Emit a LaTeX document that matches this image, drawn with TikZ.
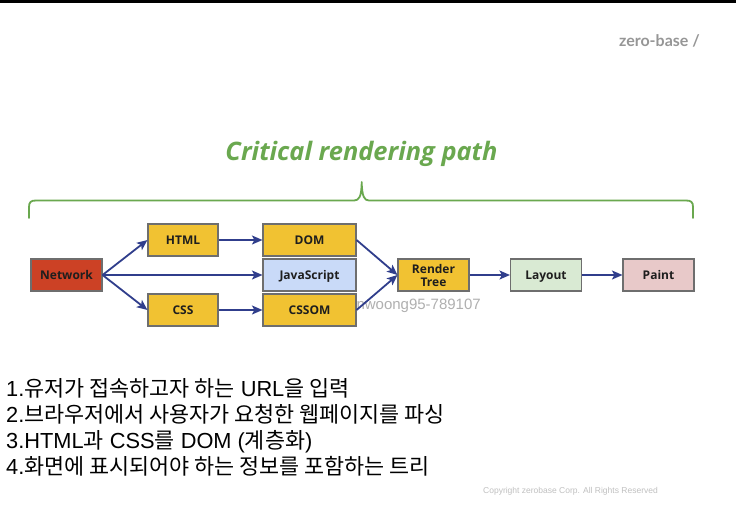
\documentclass[tikz,border=0pt]{standalone}
\usepackage{fontspec}
\setmainfont{Liberation Sans}
\newfontfamily\kr{Noto Sans CJK KR}
\newfontfamily\boxfont{Open Sans}
\newfontfamily\logofont{Lato}
\usetikzlibrary{arrows.meta}

\definecolor{pathgreen}{RGB}{106,168,79}
\definecolor{flownavy}{RGB}{48,62,140}
\definecolor{boxline}{RGB}{110,110,110}
\definecolor{netred}{RGB}{204,65,37}
\definecolor{stageyellow}{RGB}{241,194,50}
\definecolor{jsblue}{RGB}{201,218,248}
\definecolor{layoutgreen}{RGB}{217,234,211}
\definecolor{paintpink}{RGB}{232,201,201}
\definecolor{markgray}{RGB}{176,176,176}
\definecolor{logogray}{RGB}{150,150,150}
\definecolor{labelink}{RGB}{30,30,30}

\tikzset{
  stage/.style={draw=boxline, line width=1.1pt, minimum height=32pt,
    inner sep=0pt, align=center, text=labelink,
    font=\boxfont\bfseries\fontsize{12}{12.5}\selectfont},
  oneline/.style={text height=10.5pt, text depth=0.9pt},
  flow/.style={draw=flownavy, line width=1.8pt,
    -{Stealth[length=10.5pt,width=9pt,inset=2.5pt]}},
  listline/.style={anchor=base west, inner sep=0pt,
    font=\fontsize{21.8}{22}\selectfont}
}

\begin{document}
\begin{tikzpicture}[x=1pt,y=-1pt]
\useasboundingbox (0,0) rectangle (736,515);
\fill[white] (0,0) rectangle (736,515);
\fill[black] (0,0) rectangle (736,2.5);

% logo
\node[anchor=east, inner sep=0pt, text=logogray,
  font=\logofont\bfseries\fontsize{16}{16}\selectfont] (logo) at (700,41) {zero-base /};

% title and brace
\node[inner sep=0pt, text=pathgreen,
  font=\boxfont\bfseries\itshape\fontsize{25.4}{27}\selectfont] (title) at (361.5,154) {Critical rendering path};
\draw[pathgreen, line width=1.8pt, line cap=round, line join=round]
  (29,218) -- (29,207) .. controls (29,202) and (31,200.5) .. (36,200.5)
  -- (354,200.5) .. controls (359,200.5) and (361.5,197) .. (361.7,182)
  .. controls (362,197) and (364.5,200.5) .. (369,200.5)
  -- (686,200.5) .. controls (691,200.5) and (693,202) .. (693,207) -- (693,218);

% watermark
\node[anchor=base east, inner sep=0pt, text=markgray,
  font=\fontsize{15}{15}\selectfont] (mark) at (481,309.5) {inwoong95-789107};

% stages
\node[stage, oneline, fill=netred, minimum width=71pt] (net) at (66.5,275) {Network};
\node[stage, oneline, fill=stageyellow, minimum width=70pt] (html) at (183,240) {HTML};
\node[stage, oneline, fill=stageyellow, minimum width=70pt] (css) at (183,310) {CSS};
\node[stage, oneline, fill=stageyellow, minimum width=93pt] (dom) at (309.5,240) {DOM};
\node[stage, oneline, fill=jsblue, minimum width=93pt] (js) at (309.5,275) {JavaScript};
\node[stage, oneline, fill=stageyellow, minimum width=93pt] (cssom) at (309.5,310) {CSSOM};
\node[stage, fill=stageyellow, minimum width=71pt, font=\boxfont\bfseries\fontsize{12}{13}\selectfont] (rt) at (433.5,275) {Render\\Tree};
\node[stage, oneline, fill=layoutgreen, minimum width=71pt] (layout) at (546,275) {Layout};
\node[stage, oneline, fill=paintpink, minimum width=71pt] (paint) at (658.5,275) {Paint};

% connectors
\draw[flow] (net.east) -- (html.west);
\draw[flow] (net.east) -- (js.west);
\draw[flow] (net.east) -- (css.west);
\draw[flow] (html) -- (dom);
\draw[flow] (css) -- (cssom);
\draw[flow] (dom.east) -- (rt.west);
\draw[flow] (cssom.east) -- (rt.west);
\draw[flow] (rt) -- (layout);
\draw[flow] (layout) -- (paint);

% numbered notes
\node[listline] (l1) at (6,396.7) {1.{\kr 유저가 접속하고자 하는} URL{\kr 을 입력}};
\node[listline] (l2) at (6,422.7) {2.{\kr 브라우저에서 사용자가 요청한 웹페이지를 파싱}};
\node[listline] (l3) at (6,448.7) {3.HTML{\kr 과} CSS{\kr 를} DOM ({\kr 계층화})};
\node[listline] (l4) at (6,474.5) {4.{\kr 화면에 표시되어야 하는 정보를 포함하는 트리}};

% footer
\node[inner sep=0pt, text=markgray!80!white,
  font=\fontsize{8.5}{8.5}\selectfont] (copy) at (570.5,491) {Copyright zerobase Corp. All Rights Reserved};
\end{tikzpicture}
\end{document}
